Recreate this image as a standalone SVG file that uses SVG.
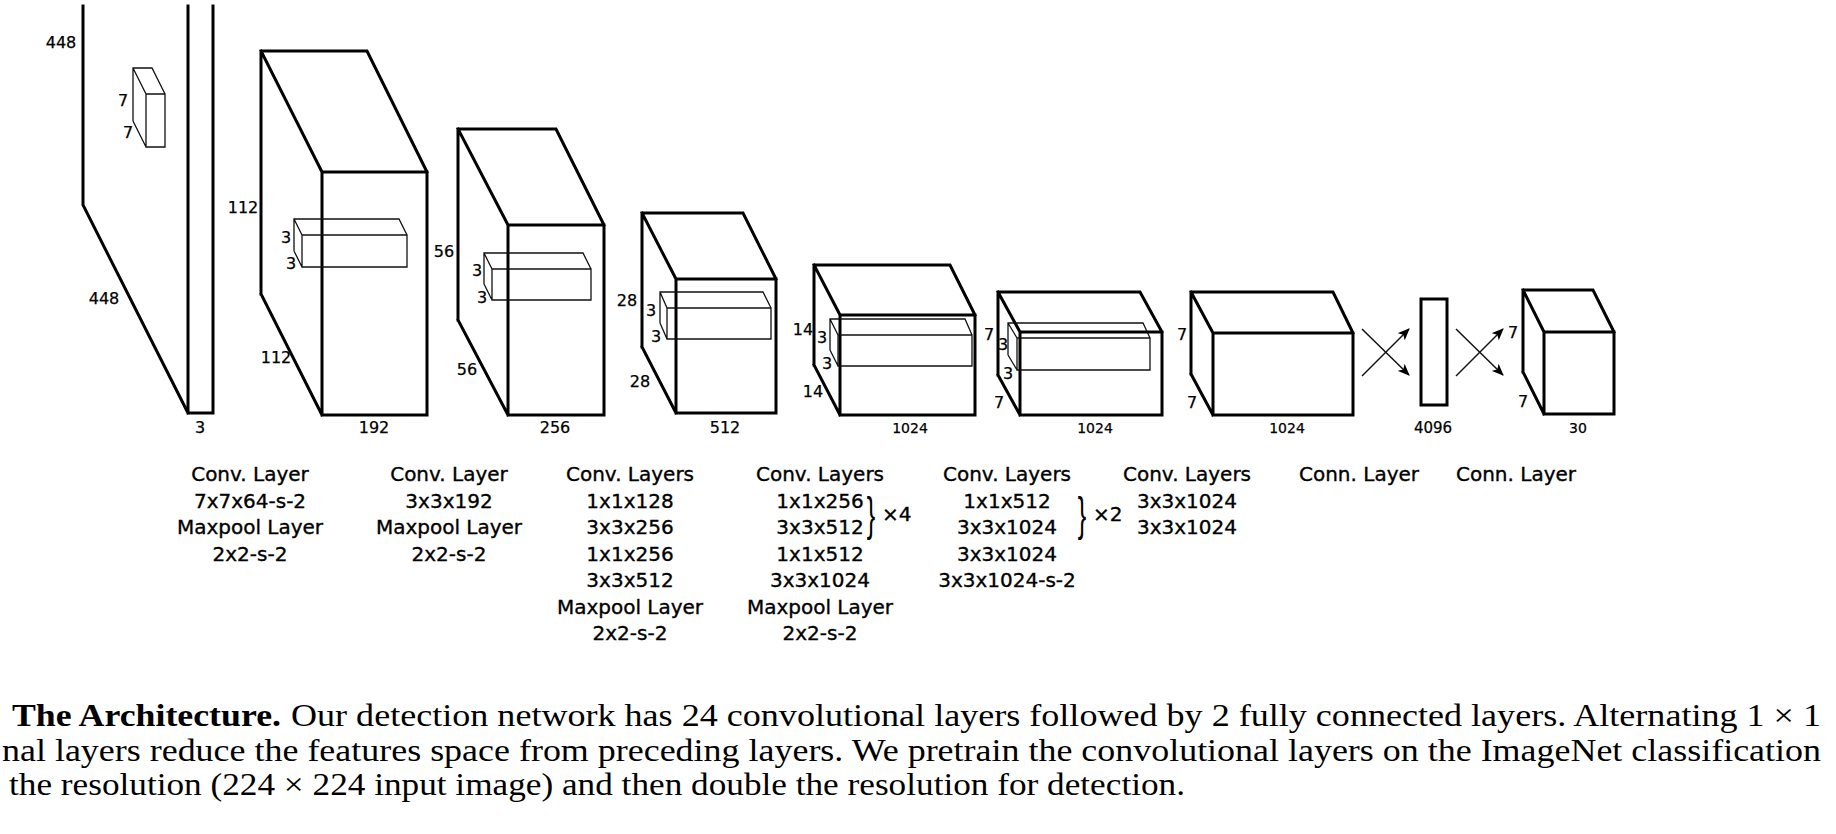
<svg xmlns="http://www.w3.org/2000/svg" width="1836" height="834" viewBox="0 0 1836 834">
<style>
.thick{fill:none;stroke:#000;stroke-width:3;stroke-linejoin:miter;stroke-linecap:square}
.thin{fill:none;stroke:#111;stroke-width:1.3;stroke-linejoin:miter}
.conn{fill:none;stroke:#111;stroke-width:1.5}
.num{font-family:"DejaVu Sans","Liberation Sans",sans-serif;font-size:16px;fill:#000;text-anchor:middle;stroke:#000;stroke-width:0.25}
.numsm{font-family:"DejaVu Sans","Liberation Sans",sans-serif;font-size:14px;fill:#000;text-anchor:middle;stroke:#000;stroke-width:0.25}
.lab{font-family:"DejaVu Sans","Liberation Sans",sans-serif;font-size:20px;fill:#000;text-anchor:middle;stroke:#000;stroke-width:0.35}
.labs{font-family:"DejaVu Sans","Liberation Sans",sans-serif;font-size:20px;fill:#000;stroke:#000;stroke-width:0.35}
.brace{font-family:"Liberation Sans",sans-serif;font-size:46px;fill:#000;text-anchor:middle}
.cap{font-family:"Liberation Serif","Times New Roman",serif;font-size:31px;fill:#000}
</style>
<defs>
<marker id="ah" markerUnits="userSpaceOnUse" viewBox="0 0 12 10" markerWidth="12" markerHeight="10" refX="11" refY="5" orient="auto">
<path d="M0,0 L12,5 L0,10 L3,5 z" fill="#000"/>
</marker>
</defs>

<g id="input">
<path class="thick" d="M83,6 L83,205 L188,413 M188,6 L188,413 L213,413 L213,6"/>
<path class="thin" d="M133,121 L133,68 L152,68 L165,94 M133,68 L146,94 M133,121 L146,147 M146,94 H165 V147 H146 Z"/>
<text class="num" x="61" y="48">448</text>
<text class="num" x="123" y="106">7</text>
<text class="num" x="128" y="138">7</text>
<text class="num" x="104" y="304">448</text>
<text class="num" x="200" y="433">3</text>
</g>

<g id="conv1">
<path class="thick" d="M261,294 L261,51 L367,51 L427,172 M261,51 L322,172 M261,294 L322,415 M322,172 H427 V415 H322 Z"/>
<path class="thin" d="M294,251 L294,219 L399,219 L407,235 M294,219 L302,235 M294,251 L302,267 M302,235 H407 V267 H302 Z"/>
<text class="num" x="243" y="213">112</text>
<text class="num" x="286" y="243">3</text>
<text class="num" x="291" y="269">3</text>
<text class="num" x="276" y="363">112</text>
<text class="num" x="374" y="433">192</text>
</g>

<g id="conv2">
<path class="thick" d="M458,320 L458,129 L556,129 L604,225 M458,129 L508,225 M458,320 L508,415 M508,225 H604 V415 H508 Z"/>
<path class="thin" d="M484,284 L484,253 L583,253 L591,269 M484,253 L492,269 M484,284 L492,300 M492,269 H591 V300 H492 Z"/>
<text class="num" x="444" y="257">56</text>
<text class="num" x="477" y="276">3</text>
<text class="num" x="482" y="303">3</text>
<text class="num" x="467" y="375">56</text>
<text class="num" x="555" y="433">256</text>
</g>

<g id="conv3">
<path class="thick" d="M642,347 L642,213 L743,213 L776,279 M642,213 L676,279 M642,347 L676,413 M676,279 H776 V413 H676 Z"/>
<path class="thin" d="M660,323 L660,292 L763,292 L771,308 M660,292 L667,308 M660,323 L667,339 M667,308 H771 V339 H667 Z"/>
<text class="num" x="627" y="306">28</text>
<text class="num" x="651" y="316">3</text>
<text class="num" x="656" y="342">3</text>
<text class="num" x="640" y="387">28</text>
<text class="num" x="725" y="433">512</text>
</g>

<g id="conv4">
<path class="thick" d="M814,365 L814,265 L950,265 L975,315 M814,265 L840,315 M814,365 L840,415 M840,315 H975 V415 H840 Z"/>
<path class="thin" d="M830,350 L830,319 L965,319 L972,335 M830,319 L838,335 M830,350 L838,366 M838,335 H972 V366 H838 Z"/>
<text class="num" x="803" y="335">14</text>
<text class="num" x="822" y="343">3</text>
<text class="num" x="827" y="369">3</text>
<text class="num" x="813" y="397">14</text>
<text class="numsm" x="910" y="433">1024</text>
</g>

<g id="conv5">
<path class="thick" d="M998,375 L998,292 L1140,292 L1162,332 M998,292 L1020,332 M998,375 L1020,415 M1020,332 H1162 V415 H1020 Z"/>
<path class="thin" d="M1008,355 L1008,323 L1143,323 L1150,338 M1008,323 L1017,338 M1008,355 L1017,370 M1017,338 H1150 V370 H1017 Z"/>
<text class="num" x="989" y="340">7</text>
<text class="num" x="1003" y="350">3</text>
<text class="num" x="1008" y="379">3</text>
<text class="num" x="999" y="408">7</text>
<text class="numsm" x="1095" y="433">1024</text>
</g>

<g id="conv6">
<path class="thick" d="M1191,374 L1191,292 L1333,292 L1353,333 M1191,292 L1213,333 M1191,374 L1213,415 M1213,333 H1353 V415 H1213 Z"/>
<text class="num" x="1182" y="340">7</text>
<text class="num" x="1192" y="408">7</text>
<text class="numsm" x="1287" y="433">1024</text>
</g>

<g id="fc1">
<rect class="thick" x="1421" y="299" width="26" height="106"/>
<text class="num" x="1433" y="433" style="font-size:15px">4096</text>
</g>

<g id="output">
<path class="thick" d="M1523,372 L1523,290 L1593,290 L1614,332 M1523,290 L1544,332 M1523,372 L1544,414 M1544,332 H1614 V414 H1544 Z"/>
<text class="num" x="1513" y="338">7</text>
<text class="num" x="1523" y="407">7</text>
<text class="numsm" x="1578" y="433">30</text>
</g>

<g id="connectors">
<line class="conn" x1="1362" y1="329" x2="1409" y2="375" marker-end="url(#ah)"/>
<line class="conn" x1="1362" y1="376" x2="1409" y2="329" marker-end="url(#ah)"/>
<line class="conn" x1="1456" y1="329" x2="1503" y2="375" marker-end="url(#ah)"/>
<line class="conn" x1="1456" y1="376" x2="1503" y2="329" marker-end="url(#ah)"/>
</g>

<g id="labels">
<text class="lab" x="250" y="481">Conv. Layer</text>
<text class="lab" x="250" y="507.5">7x7x64-s-2</text>
<text class="lab" x="250" y="534">Maxpool Layer</text>
<text class="lab" x="250" y="560.5">2x2-s-2</text>

<text class="lab" x="449" y="481">Conv. Layer</text>
<text class="lab" x="449" y="507.5">3x3x192</text>
<text class="lab" x="449" y="534">Maxpool Layer</text>
<text class="lab" x="449" y="560.5">2x2-s-2</text>

<text class="lab" x="630" y="481">Conv. Layers</text>
<text class="lab" x="630" y="507.5">1x1x128</text>
<text class="lab" x="630" y="534">3x3x256</text>
<text class="lab" x="630" y="560.5">1x1x256</text>
<text class="lab" x="630" y="587">3x3x512</text>
<text class="lab" x="630" y="613.5">Maxpool Layer</text>
<text class="lab" x="630" y="640">2x2-s-2</text>

<text class="lab" x="820" y="481">Conv. Layers</text>
<text class="lab" x="820" y="507.5">1x1x256</text>
<text class="lab" x="820" y="534">3x3x512</text>
<text class="lab" x="820" y="560.5">1x1x512</text>
<text class="lab" x="820" y="587">3x3x1024</text>
<text class="lab" x="820" y="613.5">Maxpool Layer</text>
<text class="lab" x="820" y="640">2x2-s-2</text>
<text class="brace" transform="translate(871,530) scale(0.55,1)">}</text>
<text class="labs" x="882" y="521">×4</text>

<text class="lab" x="1007" y="481">Conv. Layers</text>
<text class="lab" x="1007" y="507.5">1x1x512</text>
<text class="lab" x="1007" y="534">3x3x1024</text>
<text class="lab" x="1007" y="560.5">3x3x1024</text>
<text class="lab" x="1007" y="587">3x3x1024-s-2</text>
<text class="brace" transform="translate(1082,530) scale(0.55,1)">}</text>
<text class="labs" x="1093" y="521">×2</text>

<text class="lab" x="1187" y="481">Conv. Layers</text>
<text class="lab" x="1187" y="507.5">3x3x1024</text>
<text class="lab" x="1187" y="534">3x3x1024</text>

<text class="lab" x="1359" y="481">Conn. Layer</text>
<text class="lab" x="1516" y="481">Conn. Layer</text>
</g>

<g id="caption">
<text class="cap" x="12" y="726" font-weight="bold" textLength="269" lengthAdjust="spacingAndGlyphs">The Architecture.</text>
<text class="cap" x="291" y="726" textLength="1530" lengthAdjust="spacingAndGlyphs">Our detection network has 24 convolutional layers followed by 2 fully connected layers. Alternating 1 × 1</text>
<text class="cap" x="2" y="760.5" textLength="1819" lengthAdjust="spacingAndGlyphs">nal layers reduce the features space from preceding layers. We pretrain the convolutional layers on the ImageNet classification</text>
<text class="cap" x="9" y="795" textLength="1176" lengthAdjust="spacingAndGlyphs">the resolution (224 × 224 input image) and then double the resolution for detection.</text>
</g>
</svg>
